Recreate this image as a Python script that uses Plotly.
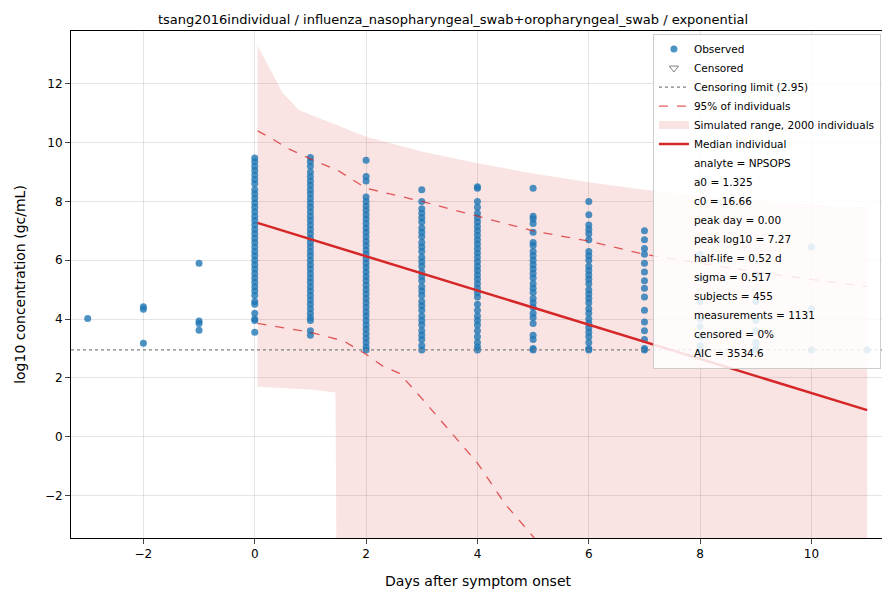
import plotly.graph_objects as go

# observed log10 concentrations by day after onset
obs = {
    -3: [4.02],
    -2: [4.42, 4.33, 3.18],
    -1: [5.90, 3.93, 3.85, 3.62],
    0: [9.48, 9.35, 9.2, 9.05, 8.9, 8.75, 8.6, 8.4, 8.25, 8.1, 7.95, 7.8, 7.65, 7.5, 7.35, 7.2, 7.05,
        6.9, 6.75, 6.6, 6.45, 6.3, 6.15, 6.0, 5.85, 5.7, 5.55, 5.4, 5.25, 5.1, 4.95, 4.8, 4.6,
        4.5, 4.2, 4.0, 3.95, 3.55],
    1: [9.5, 9.35, 9.2, 9.0, 8.85, 8.7, 8.55, 8.4, 8.25, 8.1, 7.95, 7.8, 7.65, 7.5, 7.35, 7.2,
        7.05, 6.9, 6.75, 6.6, 6.45, 6.3, 6.15, 6.0, 5.85, 5.7, 5.55, 5.4, 5.25, 5.1, 4.95, 4.8,
        4.65, 4.5, 4.35, 4.2, 4.05, 3.95, 3.6, 3.45],
    2: [9.4, 8.85, 8.7, 8.15, 8.0, 7.85, 7.7, 7.55, 7.4, 7.25, 7.1, 6.95, 6.8, 6.65, 6.5, 6.35,
        6.2, 6.05, 5.9, 5.75, 5.6, 5.45, 5.3, 5.15, 5.0, 4.85, 4.7, 4.55, 4.4, 4.25, 4.1, 3.95,
        3.8, 3.65, 3.5, 3.35, 3.2, 3.05, 2.95],
    3: [8.4, 8.0, 7.75, 7.6, 7.45, 7.3, 7.1, 6.95, 6.8, 6.6, 6.45, 6.3, 6.1, 5.95, 5.8, 5.6, 5.45,
        5.3, 5.1, 4.95, 4.8, 4.6, 4.45, 4.3, 4.1, 3.95, 3.8, 3.6, 3.45, 3.3, 3.1, 2.95],
    4: [8.5, 8.45, 8.0, 7.8, 7.6, 7.45, 7.3, 7.15, 7.0, 6.85, 6.7, 6.55, 6.4, 6.25, 6.1, 5.95, 5.8,
        5.65, 5.5, 5.35, 5.2, 5.05, 4.9, 4.75, 4.5, 4.3, 4.1, 3.95, 3.8, 3.6, 3.4, 3.2, 3.05, 2.95],
    5: [8.45, 7.5, 7.4, 7.25, 6.95, 6.6, 6.5, 6.3, 6.15, 6.0, 5.85, 5.7, 5.55, 5.4, 5.2, 5.05, 4.9,
        4.7, 4.55, 4.4, 4.2, 4.05, 3.85, 3.45, 3.3, 3.0, 2.95],
    6: [8.0, 7.55, 7.2, 7.05, 6.9, 6.7, 6.3, 6.15, 6.0, 5.8, 5.65, 5.5, 5.35, 5.2, 5.0, 4.85, 4.7,
        4.55, 4.35, 4.2, 4.0, 3.85, 3.7, 3.55, 3.4, 3.2, 3.0, 2.95],
    7: [7.0, 6.7, 6.4, 6.2, 5.9, 5.6, 5.3, 5.05, 4.75, 4.3, 3.9, 3.6, 3.3, 3.0, 2.95],
    8: [6.2, 5.4, 4.6, 4.0, 3.75, 3.4, 3.1, 2.95],
    9: [5.5, 4.6, 3.95, 3.6, 3.2, 3.0, 2.95],
    10: [6.45, 4.35, 2.95],
    11: [2.95],
}
obs_x = [d for d, vals in obs.items() for _ in vals]
obs_y = [v for vals in obs.values() for v in vals]

lod = 2.95

med_x = [0.05, 11]
med_y = [7.27, 0.9]

up_x = [0.05, 0.3, 0.6, 1, 1.5, 2, 3, 4, 5, 6, 7, 8, 9, 10, 11]
up_y = [10.4, 10.15, 9.8, 9.45, 9.05, 8.45, 8.0, 7.5, 7.0, 6.65, 6.2, 5.9, 5.6, 5.35, 5.1]
lo_x = [0.05, 0.5, 1, 1.6, 2, 2.3, 2.6, 3, 3.5, 4, 4.5, 5, 5.3]
lo_y = [3.85, 3.7, 3.55, 3.25, 2.8, 2.4, 2.15, 1.3, 0.2, -0.9, -2.3, -3.4, -4.2]

band_x = [0.05, 0.5, 0.8, 1, 2, 3, 4, 5, 6, 7, 8, 9, 10, 11]
band_hi = [13.3, 11.7, 11.1, 10.95, 10.2, 9.7, 9.3, 8.95, 8.65, 8.4, 8.2, 8.0, 7.9, 7.8]
band_lo_x = [0.05, 1.0, 1.45, 1.52, 11]
band_lo = [1.7, 1.6, 1.5, -20, -20]

stats = ["analyte = NPSOPS", "a0 = 1.325", "c0 = 16.66", "peak day = 0.00", "peak log10 = 7.27",
         "half-life = 0.52 d", "sigma = 0.517", "subjects = 455", "measurements = 1131",
         "censored = 0%", "AIC = 3534.6"]

fig = go.Figure()
fig.add_trace(go.Scatter(x=band_lo_x, y=band_lo, mode="lines", line=dict(width=0),
                         showlegend=False, hoverinfo="skip"))
fig.add_trace(go.Scatter(x=band_x, y=band_hi, mode="lines", line=dict(width=0), fill="tonexty",
                         fillcolor="rgba(214,39,40,0.13)", showlegend=False, hoverinfo="skip"))
fig.add_trace(go.Scatter(x=obs_x, y=obs_y, mode="markers", name="Observed",
                         marker=dict(color="rgba(31,119,180,0.8)", size=7)))
fig.add_trace(go.Scatter(x=[None], y=[None], mode="markers", name="Censored",
                         marker=dict(symbol="triangle-down-open", color="gray", size=8)))
fig.add_trace(go.Scatter(x=[-3.3, 11.35], y=[lod, lod], mode="lines", name="Censoring limit (2.95)",
                         line=dict(color="gray", dash="dot", width=1.3)))
fig.add_trace(go.Scatter(x=up_x, y=up_y, mode="lines", name="95% of individuals",
                         line=dict(color="rgba(214,39,40,0.75)", dash="dash", width=1.3)))
fig.add_trace(go.Scatter(x=lo_x, y=lo_y, mode="lines", showlegend=False,
                         line=dict(color="rgba(214,39,40,0.75)", dash="dash", width=1.3)))
fig.add_trace(go.Scatter(x=[None], y=[None], mode="lines", name="Simulated range, 2000 individuals",
                         line=dict(color="rgba(214,39,40,0.13)", width=8)))
fig.add_trace(go.Scatter(x=med_x, y=med_y, mode="lines", name="Median individual",
                         line=dict(color="#d62728", width=2.5)))
for s in stats:
    fig.add_trace(go.Scatter(x=[None], y=[None], mode="markers", name=s,
                             marker=dict(opacity=0, color="white")))

grid = "rgba(0,0,0,0.1)"
fig.update_layout(
    width=890, height=590, plot_bgcolor="white", paper_bgcolor="white",
    font=dict(family="DejaVu Sans", size=12, color="black"),
    title=dict(text="tsang2016individual / influenza_nasopharyngeal_swab+oropharyngeal_swab / exponential",
               x=0.5, y=0.988, xanchor="center", font=dict(size=13)),
    margin=dict(l=54, r=12, t=23, b=60),
    showlegend=True,
    legend=dict(x=0.995, y=0.995, xanchor="right", yanchor="top", bgcolor="rgba(255,255,255,0.85)",
                bordercolor="#cccccc", borderwidth=1, font=dict(size=10.5), tracegroupgap=0,
                itemwidth=30, traceorder="normal"),
)
fig.update_xaxes(range=[-3.3, 11.32], showgrid=True, gridcolor=grid, zeroline=False,
                 showline=True, mirror=True, linecolor="black", ticks="outside",
                 tickvals=[-2, 0, 2, 4, 6, 8, 10], ticktext=["−2", "0", "2", "4", "6", "8", "10"],
                 title="Days after symptom onset")
fig.update_yaxes(range=[-3.45, 13.8], showgrid=True, gridcolor=grid, zeroline=False,
                 showline=True, mirror=True, linecolor="black", ticks="outside",
                 tickvals=[-2, 0, 2, 4, 6, 8, 10, 12], ticktext=["−2", "0", "2", "4", "6", "8", "10", "12"],
                 title="log10 concentration (gc/mL)")

fig.write_html("out.html")
